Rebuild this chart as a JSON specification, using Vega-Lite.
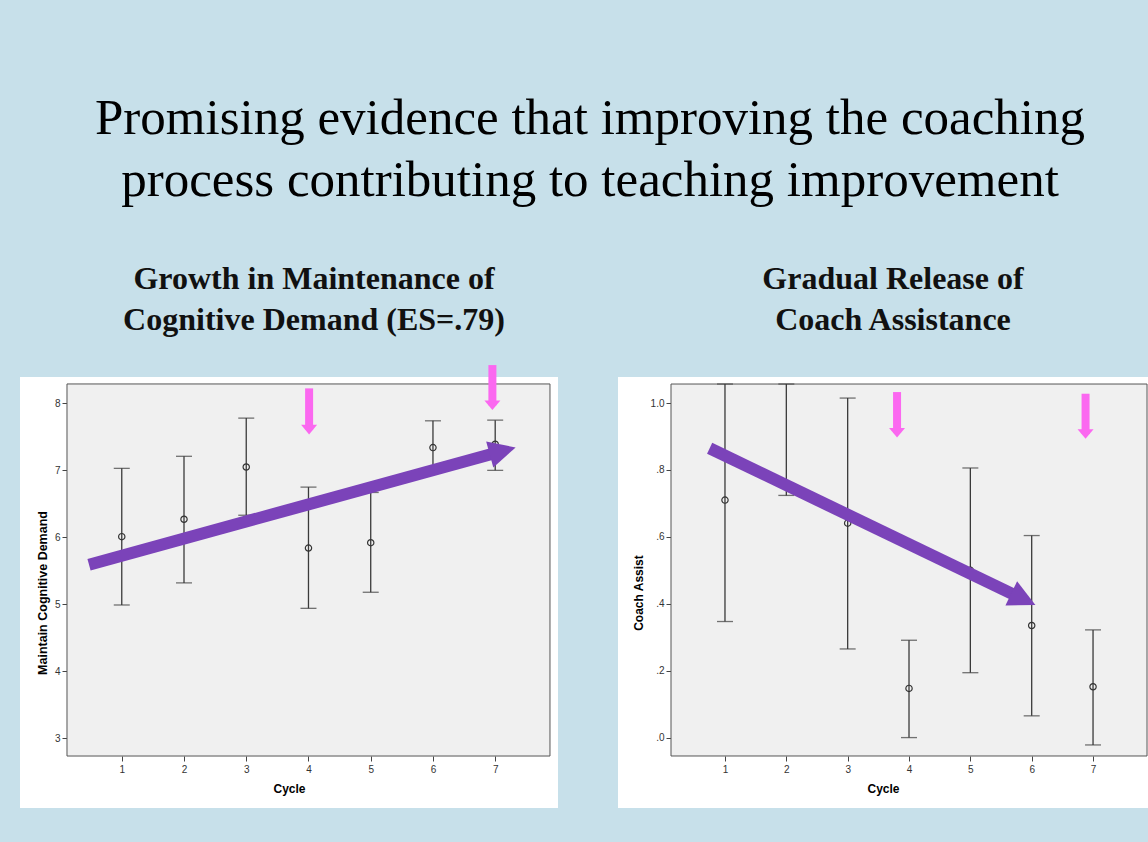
{
  "$schema": "https://vega.github.io/schema/vega-lite/v6.json",
  "background": "#c7e0ea",
  "padding": {"left": 20, "top": 93, "right": 0, "bottom": 40},
  "datasets": {
    "cdm": [
      {"cycle": 1, "mean": 6.01, "lo": 4.99, "hi": 7.03},
      {"cycle": 2, "mean": 6.27, "lo": 5.32, "hi": 7.21},
      {"cycle": 3, "mean": 7.05, "lo": 6.33, "hi": 7.78},
      {"cycle": 4, "mean": 5.84, "lo": 4.94, "hi": 6.75},
      {"cycle": 5, "mean": 5.92, "lo": 5.18, "hi": 6.67},
      {"cycle": 6, "mean": 7.34, "lo": 6.96, "hi": 7.74},
      {"cycle": 7, "mean": 7.39, "lo": 7.0, "hi": 7.75}
    ],
    "ca": [
      {"cycle": 1, "mean": 0.71, "lo": 0.347, "hi": 1.057},
      {"cycle": 2, "mean": null, "lo": 0.724, "hi": 1.057},
      {"cycle": 3, "mean": 0.641, "lo": 0.265, "hi": 1.015},
      {"cycle": 4, "mean": 0.147, "lo": 0.0, "hi": 0.291},
      {"cycle": 5, "mean": 0.5, "lo": 0.194, "hi": 0.806},
      {"cycle": 6, "mean": 0.335, "lo": 0.065, "hi": 0.604},
      {"cycle": 7, "mean": 0.152, "lo": -0.022, "hi": 0.322}
    ],
    "frame": [{"x1": 0.12, "x2": 7.88}]
  },
  "title": {
    "text": ["Promising evidence that improving the coaching", "process contributing to teaching improvement"],
    "font": "Liberation Serif",
    "fontSize": 51,
    "fontWeight": "normal",
    "lineHeight": 62,
    "color": "#000000",
    "anchor": "middle",
    "frame": "bounds",
    "offset": 56,
    "dx": 6
  },
  "spacing": 60,
  "hconcat": [
    {
      "width": 538,
      "height": 431,
      "title": {
        "text": ["Growth in Maintenance of", "Cognitive Demand (ES=.79)"],
        "font": "Liberation Serif",
        "fontSize": 32,
        "fontWeight": "bold",
        "lineHeight": 41,
        "color": "#111111",
        "anchor": "middle",
        "frame": "group",
        "offset": 24,
        "dx": 25
      },
      "layer": [
        {
          "data": {"name": "cdm"},
          "mark": {"type": "rule", "color": "#3a3a3a", "strokeWidth": 1.3},
          "encoding": {
            "x": {"field": "cycle", "type": "quantitative", "title": "Cycle",
                  "scale": {"domain": [-0.635, 8.009], "nice": false, "zero": false},
                  "axis": {"values": [1, 2, 3, 4, 5, 6, 7], "format": "d", "offset": -52, "titlePadding": 9,
                           "domain": false, "grid": false, "tickSize": 5, "tickColor": "#444444",
                           "labelFontSize": 10, "labelColor": "#333333", "labelPadding": 3,
                           "titleFontSize": 12, "titleColor": "#000000"}},
            "y": {"field": "lo", "type": "quantitative", "title": "Maintain Cognitive Demand",
                  "scale": {"domain": [1.959, 8.394], "nice": false, "zero": false},
                  "axis": {"values": [3, 4, 5, 6, 7, 8], "format": "d", "offset": -47, "titlePadding": 5,
                           "domain": false, "grid": false, "tickSize": 5, "tickColor": "#444444",
                           "labelFontSize": 10, "labelColor": "#333333", "labelPadding": 2,
                           "titleFontSize": 12.5, "titleColor": "#000000"}},
            "y2": {"field": "hi"}
          }
        },
        {
          "data": {"name": "frame"},
          "mark": {"type": "rect", "fill": "#f0f0f0", "stroke": "#555555", "strokeWidth": 1},
          "encoding": {
            "x": {"field": "x1", "type": "quantitative", "title": "Cycle"},
            "x2": {"field": "x2"},
            "y": {"datum": 2.735, "type": "quantitative", "title": "Maintain Cognitive Demand"},
            "y2": {"datum": 8.29}
          }
        },
        {
          "data": {"name": "cdm"},
          "mark": {"type": "rule", "color": "#3a3a3a", "strokeWidth": 1.3},
          "encoding": {
            "x": {"field": "cycle", "type": "quantitative", "title": "Cycle"},
            "y": {"field": "lo", "type": "quantitative", "title": "Maintain Cognitive Demand"},
            "y2": {"field": "hi"}
          }
        },
        {
          "data": {"name": "cdm"},
          "mark": {"type": "tick", "orient": "horizontal", "size": 16, "thickness": 1.3, "color": "#3a3a3a"},
          "encoding": {
            "x": {"field": "cycle", "type": "quantitative", "title": "Cycle"},
            "y": {"field": "lo", "type": "quantitative", "title": "Maintain Cognitive Demand"}
          }
        },
        {
          "data": {"name": "cdm"},
          "mark": {"type": "tick", "orient": "horizontal", "size": 16, "thickness": 1.3, "color": "#3a3a3a"},
          "encoding": {
            "x": {"field": "cycle", "type": "quantitative", "title": "Cycle"},
            "y": {"field": "hi", "type": "quantitative", "title": "Maintain Cognitive Demand"}
          }
        },
        {
          "data": {"name": "cdm"},
          "mark": {"type": "point", "shape": "circle", "filled": false, "size": 40, "strokeWidth": 1.2, "color": "#333333", "opacity": 1},
          "encoding": {
            "x": {"field": "cycle", "type": "quantitative", "title": "Cycle"},
            "y": {"field": "mean", "type": "quantitative", "title": "Maintain Cognitive Demand"}
          }
        },
        {
          "data": {"name": "frame"},
          "mark": {"type": "rule", "color": "#7b43b9", "strokeWidth": 12, "strokeCap": "butt"},
          "encoding": {
            "x": {"datum": 0.474, "type": "quantitative", "title": "Cycle"},
            "y": {"datum": 5.59, "type": "quantitative", "title": "Maintain Cognitive Demand"},
            "x2": {"datum": 7.12},
            "y2": {"datum": 7.29}
          }
        },
        {
          "data": {"name": "frame"},
          "mark": {"type": "point", "shape": "M-1,-1L1,0L-1,1Z", "size": 720, "angle": -15.4, "filled": true, "color": "#7b43b9", "opacity": 1},
          "encoding": {
            "x": {"datum": 7.12, "type": "quantitative", "title": "Cycle"},
            "y": {"datum": 7.29, "type": "quantitative", "title": "Maintain Cognitive Demand"}
          }
        },
        {
          "data": {"name": "frame"},
          "mark": {"type": "rule", "color": "#fb68f0", "strokeWidth": 8, "strokeCap": "butt"},
          "encoding": {
            "x": {"datum": 4.01, "type": "quantitative", "title": "Cycle"},
            "y": {"datum": 8.224, "type": "quantitative", "title": "Maintain Cognitive Demand"},
            "y2": {"datum": 7.609}
          }
        },
        {
          "data": {"name": "frame"},
          "mark": {"type": "point", "shape": "M-1,-0.6L1,-0.6L0,0.6Z", "size": 256, "filled": true, "color": "#fb68f0", "opacity": 1},
          "encoding": {
            "x": {"datum": 4.01, "type": "quantitative", "title": "Cycle"},
            "y": {"datum": 7.609, "type": "quantitative", "title": "Maintain Cognitive Demand"}
          }
        },
        {
          "data": {"name": "frame"},
          "mark": {"type": "rule", "color": "#fb68f0", "strokeWidth": 8, "strokeCap": "butt"},
          "encoding": {
            "x": {"datum": 6.955, "type": "quantitative", "title": "Cycle"},
            "y": {"datum": 8.572, "type": "quantitative", "title": "Maintain Cognitive Demand"},
            "y2": {"datum": 7.972}
          }
        },
        {
          "data": {"name": "frame"},
          "mark": {"type": "point", "shape": "M-1,-0.6L1,-0.6L0,0.6Z", "size": 256, "filled": true, "color": "#fb68f0", "opacity": 1},
          "encoding": {
            "x": {"datum": 6.955, "type": "quantitative", "title": "Cycle"},
            "y": {"datum": 7.972, "type": "quantitative", "title": "Maintain Cognitive Demand"}
          }
        }
      ]
    },
    {
      "width": 530,
      "height": 431,
      "title": {
        "text": ["Gradual Release of", "Coach Assistance"],
        "font": "Liberation Serif",
        "fontSize": 32,
        "fontWeight": "bold",
        "lineHeight": 41,
        "color": "#111111",
        "anchor": "middle",
        "frame": "group",
        "offset": 40,
        "dx": 10
      },
      "layer": [
        {
          "data": {"name": "ca"},
          "mark": {"type": "rule", "color": "#3a3a3a", "strokeWidth": 1.3},
          "encoding": {
            "x": {"field": "cycle", "type": "quantitative", "title": "Cycle",
                  "scale": {"domain": [-0.744, 7.896], "nice": false, "zero": false},
                  "axis": {"values": [1, 2, 3, 4, 5, 6, 7], "format": "d", "offset": -52, "titlePadding": 9,
                           "domain": false, "grid": false, "tickSize": 5, "tickColor": "#444444",
                           "labelFontSize": 10, "labelColor": "#333333", "labelPadding": 3,
                           "titleFontSize": 12, "titleColor": "#000000"}},
            "y": {"field": "lo", "type": "quantitative", "title": "Coach Assist",
                  "scale": {"domain": [-0.2105, 1.078], "nice": false, "zero": false},
                  "axis": {"values": [0, 0.2, 0.4, 0.6, 0.8, 1.0], "offset": -53, "titlePadding": 5, "format": ".1f",
                           "labelExpr": "datum.value >= 1 ? '1.0' : '.' + format(datum.value * 10, '.0f')",
                           "domain": false, "grid": false, "tickSize": 5, "tickColor": "#444444",
                           "labelFontSize": 10, "labelColor": "#333333", "labelPadding": 2,
                           "titleFontSize": 12, "titleColor": "#000000"}},
            "y2": {"field": "hi"}
          }
        },
        {
          "data": {"name": "frame"},
          "mark": {"type": "rect", "fill": "#f0f0f0", "stroke": "#555555", "strokeWidth": 1},
          "encoding": {
            "x": {"field": "x1", "type": "quantitative", "title": "Cycle"},
            "x2": {"field": "x2"},
            "y": {"datum": -0.055, "type": "quantitative", "title": "Coach Assist"},
            "y2": {"datum": 1.057}
          }
        },
        {
          "data": {"name": "ca"},
          "mark": {"type": "rule", "color": "#3a3a3a", "strokeWidth": 1.3},
          "encoding": {
            "x": {"field": "cycle", "type": "quantitative", "title": "Cycle"},
            "y": {"field": "lo", "type": "quantitative", "title": "Coach Assist"},
            "y2": {"field": "hi"}
          }
        },
        {
          "data": {"name": "ca"},
          "mark": {"type": "tick", "orient": "horizontal", "size": 16, "thickness": 1.3, "color": "#3a3a3a"},
          "encoding": {
            "x": {"field": "cycle", "type": "quantitative", "title": "Cycle"},
            "y": {"field": "lo", "type": "quantitative", "title": "Coach Assist"}
          }
        },
        {
          "data": {"name": "ca"},
          "mark": {"type": "tick", "orient": "horizontal", "size": 16, "thickness": 1.3, "color": "#3a3a3a"},
          "encoding": {
            "x": {"field": "cycle", "type": "quantitative", "title": "Cycle"},
            "y": {"field": "hi", "type": "quantitative", "title": "Coach Assist"}
          }
        },
        {
          "data": {"name": "ca"},
          "mark": {"type": "point", "shape": "circle", "filled": false, "size": 40, "strokeWidth": 1.2, "color": "#333333", "opacity": 1},
          "encoding": {
            "x": {"field": "cycle", "type": "quantitative", "title": "Cycle"},
            "y": {"field": "mean", "type": "quantitative", "title": "Coach Assist"}
          }
        },
        {
          "data": {"name": "frame"},
          "mark": {"type": "rule", "color": "#7b43b9", "strokeWidth": 12, "strokeCap": "butt"},
          "encoding": {
            "x": {"datum": 0.75, "type": "quantitative", "title": "Cycle"},
            "y": {"datum": 0.865, "type": "quantitative", "title": "Coach Assist"},
            "x2": {"datum": 5.864},
            "y2": {"datum": 0.4137}
          }
        },
        {
          "data": {"name": "frame"},
          "mark": {"type": "point", "shape": "M-1,-1L1,0L-1,1Z", "size": 720, "angle": 25.8, "filled": true, "color": "#7b43b9", "opacity": 1},
          "encoding": {
            "x": {"datum": 5.864, "type": "quantitative", "title": "Cycle"},
            "y": {"datum": 0.4137, "type": "quantitative", "title": "Coach Assist"}
          }
        },
        {
          "data": {"name": "frame"},
          "mark": {"type": "rule", "color": "#fb68f0", "strokeWidth": 8, "strokeCap": "butt"},
          "encoding": {
            "x": {"datum": 3.805, "type": "quantitative", "title": "Cycle"},
            "y": {"datum": 1.033, "type": "quantitative", "title": "Coach Assist"},
            "y2": {"datum": 0.9115}
          }
        },
        {
          "data": {"name": "frame"},
          "mark": {"type": "point", "shape": "M-1,-0.6L1,-0.6L0,0.6Z", "size": 256, "filled": true, "color": "#fb68f0", "opacity": 1},
          "encoding": {
            "x": {"datum": 3.805, "type": "quantitative", "title": "Cycle"},
            "y": {"datum": 0.9115, "type": "quantitative", "title": "Coach Assist"}
          }
        },
        {
          "data": {"name": "frame"},
          "mark": {"type": "rule", "color": "#fb68f0", "strokeWidth": 8, "strokeCap": "butt"},
          "encoding": {
            "x": {"datum": 6.878, "type": "quantitative", "title": "Cycle"},
            "y": {"datum": 1.028, "type": "quantitative", "title": "Coach Assist"},
            "y2": {"datum": 0.9076}
          }
        },
        {
          "data": {"name": "frame"},
          "mark": {"type": "point", "shape": "M-1,-0.6L1,-0.6L0,0.6Z", "size": 256, "filled": true, "color": "#fb68f0", "opacity": 1},
          "encoding": {
            "x": {"datum": 6.878, "type": "quantitative", "title": "Cycle"},
            "y": {"datum": 0.9076, "type": "quantitative", "title": "Coach Assist"}
          }
        }
      ]
    }
  ],
  "config": {
    "view": {"stroke": null, "fill": "#ffffff"},
    "axis": {"labelFont": "Liberation Sans", "titleFont": "Liberation Sans", "titleFontWeight": "bold"}
  }
}
